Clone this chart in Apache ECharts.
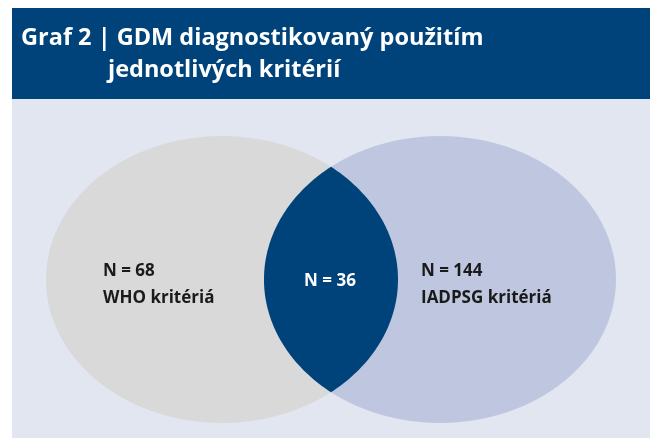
<!DOCTYPE html>
<html>
<head>
<meta charset="utf-8">
<script src="https://cdn.jsdelivr.net/npm/echarts@6/dist/echarts.min.js"></script>
<style>
  html, body { margin: 0; padding: 0; background: #fff; }
  #chart { width: 650px; height: 438px; }
</style>
</head>
<body>
<div id="chart"></div>
<script>
// data
const setLabels = ['WHO kritériá', 'IADPSG kritériá', ''];
const setCounts = [68, 144, 36]; // WHO only, IADPSG only, both
const titleLine1 = 'Graf 2 | GDM diagnostikovaný použitím';
const titleLine2 = 'jednotlivých kritérií';

// layout (axis units = pixels of the 650x438 canvas)
const CY = 279.5;
const RX = 176;
const RY = 143.5;
const CX_LEFT = 222;
const CX_RIGHT = 440;
const LABEL_X = [103, 421, 330];
const LABEL_Y = [285, 285, 281];

const DARK = '#00437a';
const FONT = '"Open Sans", "Noto Sans", sans-serif';

const ellipsePoints = function(cx, cy, rx, ry, t0, t1, n) {
  const pts = [];
  for (let i = 0; i <= n; i++) {
    const t = t0 + (t1 - t0) * i / n;
    pts.push([cx + rx * Math.cos(t), cy + ry * Math.sin(t)]);
  }
  return pts;
};

const renderItem = function(params, api) {
  const idx = params.dataIndex;
  const c = api.coord([0, 0]);
  const s = api.size([1, 1]);
  const px = x => c[0] + x * s[0];
  const py = y => c[1] + y * s[1];
  const rx = RX * s[0];
  const ry = RY * s[1];
  const label = 'N = ' + api.value(0) + (setLabels[idx] ? '\n' + setLabels[idx] : '');
  const text = {
    type: 'text',
    z2: 10,
    style: {
      text: label,
      x: px(LABEL_X[idx]),
      y: py(LABEL_Y[idx]),
      align: idx === 2 ? 'center' : 'left',
      verticalAlign: 'middle',
      fill: idx === 2 ? '#ffffff' : '#1a1a1a',
      font: 'bold 17px ' + FONT,
      lineHeight: 27
    }
  };
  let shape;
  if (idx === 0 || idx === 1) {
    shape = {
      type: 'ellipse',
      shape: { cx: px(idx === 0 ? CX_LEFT : CX_RIGHT), cy: py(CY), rx: rx, ry: ry },
      style: { fill: idx === 0 ? '#d9d9d9' : '#bec7df' }
    };
  } else {
    // lens = overlap of the two ellipses
    const cxL = px(CX_LEFT);
    const cxR = px(CX_RIGHT);
    const xm = (cxL + cxR) / 2;
    const t0 = Math.acos((xm - cxL) / rx);
    const pts = ellipsePoints(cxL, py(CY), rx, ry, -t0, t0, 80)
      .concat(ellipsePoints(cxR, py(CY), rx, ry, Math.PI - t0, Math.PI + t0, 80));
    shape = {
      type: 'polygon',
      shape: { points: pts },
      style: { fill: DARK }
    };
  }
  return { type: 'group', children: [shape, text] };
};

const myChart = echarts.init(document.querySelector('#chart'));

const option = {
  animation: false,
  backgroundColor: '#ffffff',
  graphic: [
    { type: 'rect', z: -10, shape: { x: 12, y: 98, width: 638, height: 340 }, style: { fill: '#e1e6f1' } },
    { type: 'rect', z: -10, shape: { x: 12, y: 8, width: 638, height: 91 }, style: { fill: DARK } },
    {
      type: 'text', z: 5,
      style: { text: titleLine1, x: 21, y: 38.5, verticalAlign: 'middle', fill: '#ffffff', font: 'bold 23.5px ' + FONT }
    },
    {
      type: 'text', z: 5,
      style: { text: titleLine2, x: 108, y: 70, verticalAlign: 'middle', fill: '#ffffff', font: 'bold 23.5px ' + FONT }
    }
  ],
  grid: { left: 0, right: 0, top: 0, bottom: 0 },
  xAxis: { type: 'value', min: 0, max: 650, show: false },
  yAxis: { type: 'value', min: 0, max: 438, inverse: true, show: false },
  series: [
    {
      type: 'custom',
      renderItem: renderItem,
      data: setCounts.map(v => [v]),
      encode: { x: -1, y: -1 },
      silent: true
    }
  ]
};

myChart.setOption(option);
</script>
</body>
</html>
